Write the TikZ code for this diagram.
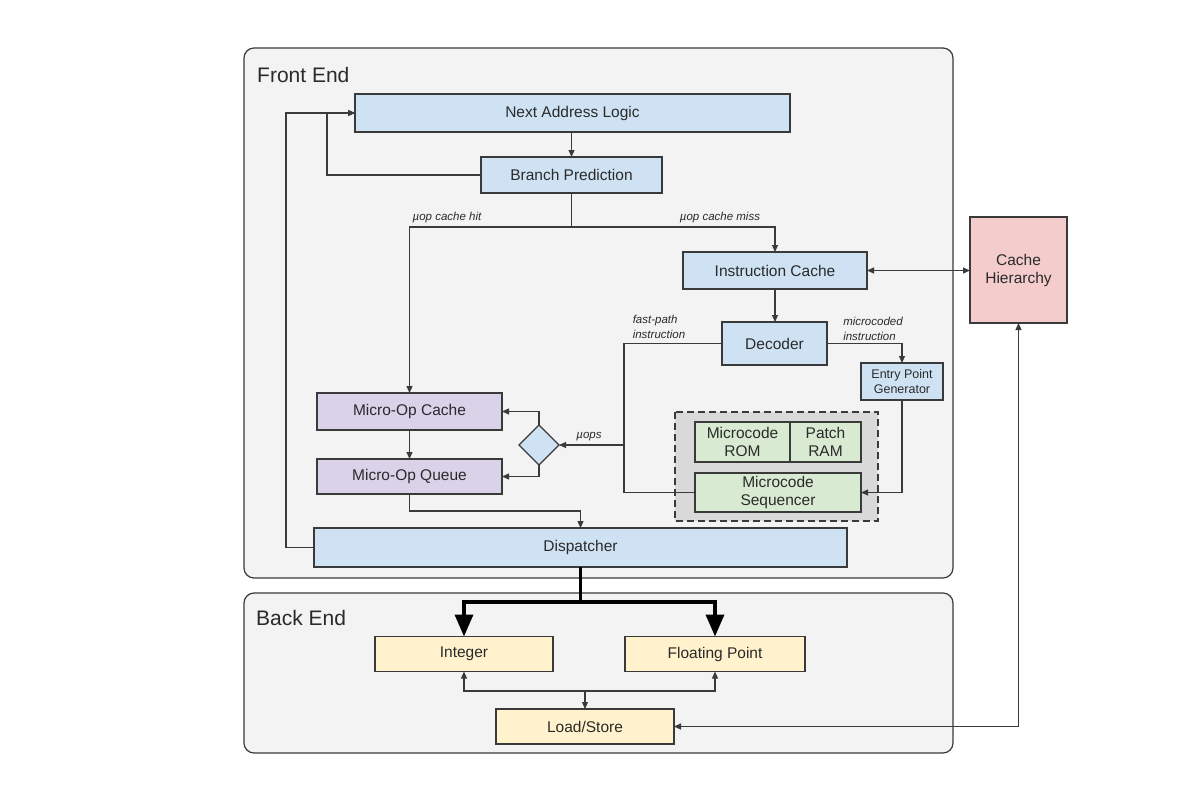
\documentclass[tikz,border=0pt]{standalone}
\usepackage{fontspec}
\setmainfont{Liberation Sans}
\usetikzlibrary{arrows.meta,shapes.geometric}
\definecolor{bd}{HTML}{3A3A3A}
\definecolor{txt}{HTML}{2A2A2A}
\definecolor{panelfill}{HTML}{F3F3F3}
\definecolor{bluef}{HTML}{CFE2F3}
\definecolor{purplef}{HTML}{D9D2E9}
\definecolor{greenf}{HTML}{D9EAD3}
\definecolor{yellowf}{HTML}{FFF2CC}
\definecolor{pinkf}{HTML}{F4CCCC}
\definecolor{dashf}{HTML}{D9D9D9}
\tikzset{
  box/.style={draw=bd, line width=1.15pt, inner sep=0pt, outer sep=0pt, text=txt,
    font=\fontsize{15.5}{18}\selectfont, align=center},
  bluebox/.style={box, fill=bluef},
  purplebox/.style={box, fill=purplef},
  greenbox/.style={box, fill=greenf},
  yellowbox/.style={box, fill=yellowf},
  pinkbox/.style={box, fill=pinkf},
  panel/.style={draw=bd, line width=1.2pt, fill=panelfill, rounded corners=10pt},
  paneltitle/.style={anchor=west, inner sep=0pt, text=txt, font=\fontsize{21}{24}\selectfont},
  lbl/.style={inner sep=0pt, text=txt, align=left, font=\fontsize{11.5}{15}\selectfont\itshape},
  conn/.style={draw=bd, line width=1.1pt},
  arr/.style={conn, -{Triangle[length=7pt,width=6pt]}},
  arrtwo/.style={conn, {Triangle[length=7pt,width=6pt]}-{Triangle[length=7pt,width=6pt]}},
  bigarr/.style={draw=black, line width=3.6pt, -{Triangle[length=22pt,width=18pt]}},
}
\begin{document}
\begin{tikzpicture}[x=1pt,y=-1pt]
\useasboundingbox[fill=white] (0,0) rectangle (1200,800);
% panels
\draw[panel] (244,48) rectangle (953,578);
\draw[panel] (244,593) rectangle (953,753);
\node[paneltitle] (fe) at (257,75) {Front End};
\node[paneltitle] (be) at (256,618) {Back End};
% dashed microcode region
\draw[draw=bd, line width=1.2pt, fill=dashf, dash pattern=on 7pt off 4pt] (675,412) rectangle (878,521);
% nodes
\node[bluebox, minimum width=435pt, minimum height=38pt] (nal) at (572.5,113) {Next Address Logic};
\node[bluebox, minimum width=181pt, minimum height=36pt] (bp) at (571.5,175) {Branch Prediction};
\node[bluebox, minimum width=184pt, minimum height=37pt] (ic) at (775,270.5) {Instruction Cache};
\node[bluebox, minimum width=105pt, minimum height=43pt] (dec) at (774.5,343.5) {Decoder};
\node[bluebox, minimum width=82pt, minimum height=37pt, font=\fontsize{12.5}{15}\selectfont] (epg) at (902,381.5) {Entry Point\\Generator};
\node[greenbox, minimum width=95pt, minimum height=40pt, font=\fontsize{15.5}{17.5}\selectfont] (rom) at (742.5,442) {Microcode\\ROM};
\node[greenbox, minimum width=71pt, minimum height=40pt, font=\fontsize{15.5}{17.5}\selectfont] (ram) at (825.5,442) {Patch\\RAM};
\node[greenbox, minimum width=166pt, minimum height=39pt, font=\fontsize{15.5}{17.5}\selectfont] (seq) at (778,492.5) {Microcode\\Sequencer};
\node[box, fill=bluef, diamond, shape aspect=1, minimum width=40pt, minimum height=40pt] (dia) at (539,445) {};
\node[purplebox, minimum width=185pt, minimum height=37pt] (moc) at (409.5,411.5) {Micro-Op Cache};
\node[purplebox, minimum width=185pt, minimum height=35pt] (moq) at (409.5,476.5) {Micro-Op Queue};
\node[bluebox, minimum width=533pt, minimum height=39pt] (disp) at (580.5,547.5) {Dispatcher};
\node[pinkbox, minimum width=97pt, minimum height=106pt, font=\fontsize{15.5}{18}\selectfont] (ch) at (1018.5,270) {Cache\\Hierarchy};
\node[yellowbox, minimum width=178pt, minimum height=35pt] (int) at (464,654) {Integer};
\node[yellowbox, minimum width=180pt, minimum height=35pt] (fp) at (715,654) {Floating Point};
\node[yellowbox, minimum width=178pt, minimum height=35pt] (ls) at (585,726.5) {Load/Store};
% labels
\node[lbl] (lhit) at (447,218) {µop cache hit};
\node[lbl] (lmiss) at (720,218) {µop cache miss};
\node[lbl] (lfast) at (659,327) {fast-path\\instruction};
\node[lbl] (lmicro) at (873,329) {microcoded\\instruction};
\node[lbl] (lmuops) at (589,437) {µops};
% coordinates
\coordinate (lpin) at (327,113);
\coordinate (lpout) at (286,113);
\coordinate (split) at (571.5,227);
\coordinate (fpc) at (624,492.5);
\coordinate (mu) at (624,445);
\coordinate (dq) at (580.5,511);
\coordinate (tb) at (580.5,602);
\coordinate (bus) at (585,691);
% connectors
\draw[arr] (bp.north |- nal.south) -- (bp.north);
\draw[arr] (bp.west) -| (lpin) -- (nal.west);
\draw[arr] (disp.west) -| (lpout) -- (nal.west);
\draw[conn] (bp.south) -- (split);
\draw[arr] (split) -| (moc.north);
\draw[arr] (split) -| (ic.north);
\draw[arr] (ic.south) -- (ic.south |- dec.north);
\draw[arrtwo] (ic.east) -- (ic.east -| ch.west);
\draw[arr] (dec.east) -| (epg.north);
\draw[arr] (epg.south) |- (seq.east);
\draw[conn] (dec.west) -| (fpc) -- (seq.west);
\draw[arr] (mu) -- (dia.east);
\draw[arr] (dia.north) |- (moc.east);
\draw[arr] (dia.south) |- (moq.east);
\draw[arr] (moc.south) -- (moq.north);
\draw[arr] (moq.south) |- (dq) -- (disp.north);
\draw[draw=black, line width=3.6pt] (disp.south) -- (tb);
\draw[bigarr] (tb) -| (int.north);
\draw[bigarr] (tb) -| (fp.north);
\draw[arr] (bus) -| (int.south);
\draw[arr] (bus) -| (fp.south);
\draw[arr] (bus) -- (ls.north);
\draw[arrtwo] (ls.east) -| (ch.south);
\end{tikzpicture}
\end{document}
